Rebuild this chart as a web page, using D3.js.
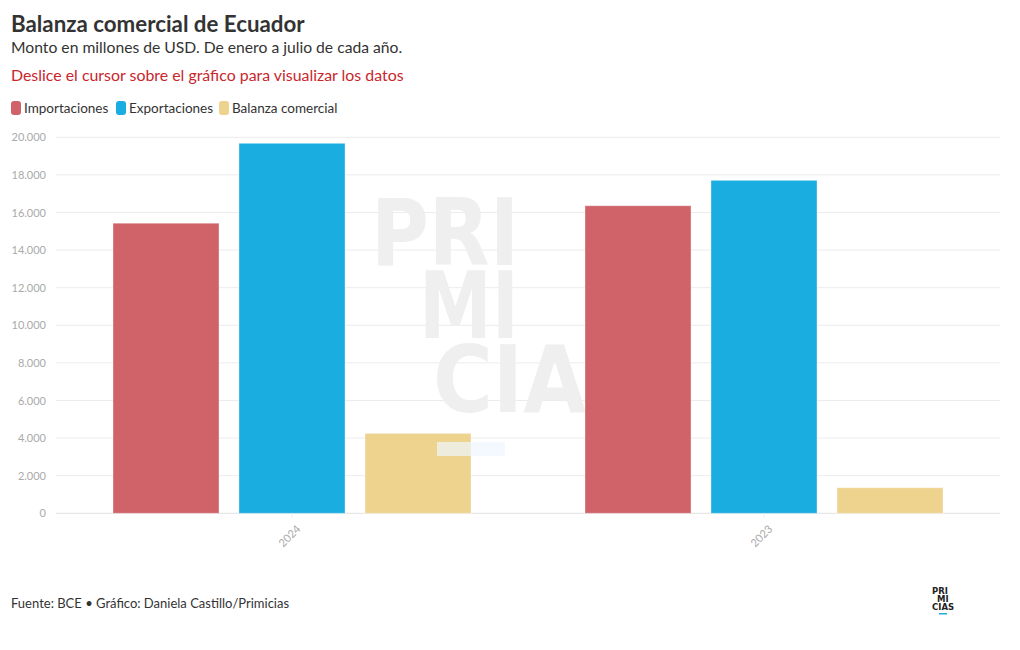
<!DOCTYPE html>
<html>
<head>
<meta charset="utf-8">
<script src="https://cdn.jsdelivr.net/npm/d3@7"></script>
<style>
  body { margin: 0; background: #fff; }
  svg { display: block; font-family: Lato, "Open Sans", sans-serif; }
</style>
</head>
<body>
<svg id="chart" width="1020" height="650"></svg>
<script>
// datos (millones de USD, enero a julio)
const years = ["2024", "2023"];
const series = ["Importaciones", "Exportaciones", "Balanza comercial"];
const importaciones = [15430, 16360];
const exportaciones = [19680, 17710];
const balanza = [4250, 1360];
const colors = ["#d0636a", "#1aade0", "#edd38e"];
const yTicks = [0, 2000, 4000, 6000, 8000, 10000, 12000, 14000, 16000, 18000, 20000];

const svg = d3.select("#chart");
const margin = {left: 56, right: 1000, top: 137.3, bottom: 513.3};

// titulos
svg.append("text").attr("x", 11).attr("y", 32)
  .attr("font-size", 22.3).attr("font-weight", 700).attr("fill", "#333")
  .text("Balanza comercial de Ecuador");
svg.append("text").attr("x", 11).attr("y", 53)
  .attr("font-size", 15.7).attr("fill", "#333")
  .text("Monto en millones de USD. De enero a julio de cada año.");
svg.append("text").attr("x", 11).attr("y", 81)
  .attr("font-size", 15.9).attr("fill", "#c9252d")
  .text("Deslice el cursor sobre el gráfico para visualizar los datos");

// leyenda
const legendX = [11, 116, 219];
const legend = svg.append("g");
series.forEach((s, i) => {
  const g = legend.append("g").attr("transform", `translate(${legendX[i]},101)`);
  g.append("rect").attr("width", 10).attr("height", 14).attr("rx", 3).attr("fill", colors[i]);
  g.append("text").attr("x", 13).attr("y", 12).attr("font-size", 13.5).attr("fill", "#333").text(s);
});

// escalas
const y = d3.scaleLinear().domain([0, 20000]).range([margin.bottom, margin.top]);
const x0 = d3.scaleBand().domain(years).range([margin.left, margin.right]);
const x1 = d3.scaleBand().domain(series).range([57, x0.bandwidth() - 57]).paddingInner(20 / 126);

// grilla
const grid = svg.append("g");
grid.selectAll("line").data(yTicks).enter().append("line")
  .attr("x1", margin.left).attr("x2", margin.right)
  .attr("y1", d => y(d)).attr("y2", d => y(d))
  .attr("stroke", d => d === 0 ? "#e2e2e2" : "#ececec").attr("stroke-width", 1);

const yAxis = svg.append("g").attr("transform", `translate(${margin.left},0)`)
  .call(d3.axisLeft(y).tickValues(yTicks).tickSize(0).tickPadding(10)
    .tickFormat(d => d3.format(",")(d).replace(/,/g, ".")));
yAxis.select(".domain").remove();
yAxis.selectAll("text").attr("font-size", 11).attr("fill", "#aaa").attr("font-family", "Lato, sans-serif");

// marca de agua (detras de las barras)
const wm = svg.append("g").attr("font-family", "DejaVu Sans, sans-serif")
  .attr("font-weight", 700).attr("fill", "#efefef");
wm.append("text").attr("x", 371).attr("y", 265).attr("font-size", 92)
  .attr("textLength", 148).attr("lengthAdjust", "spacingAndGlyphs").text("PRI");
wm.append("text").attr("x", 419).attr("y", 338).attr("font-size", 92)
  .attr("textLength", 100).attr("lengthAdjust", "spacingAndGlyphs").text("MI");
wm.append("text").attr("x", 433).attr("y", 412).attr("font-size", 92)
  .attr("textLength", 212).attr("lengthAdjust", "spacingAndGlyphs").text("CIAS");

// barras
const rows = years.map((yr, i) => ({
  year: yr,
  values: [importaciones[i], exportaciones[i], balanza[i]]
}));
const groups = svg.append("g").selectAll("g").data(rows).enter().append("g")
  .attr("transform", d => `translate(${x0(d.year)},0)`);
groups.selectAll("rect").data(d => d.values.map((v, i) => ({key: series[i], v, i}))).enter()
  .append("rect")
  .attr("x", d => x1(d.key))
  .attr("width", x1.bandwidth())
  .attr("y", d => y(d.v))
  .attr("height", d => y(0) - y(d.v))
  .attr("fill", d => colors[d.i])
  .attr("stroke", "rgba(255,255,255,0.35)").attr("stroke-width", 1);

// resto de tooltip
svg.append("rect").attr("x", 437).attr("y", 442).attr("width", 68).attr("height", 14)
  .attr("fill", "#eef6fd").attr("opacity", 0.7);

// eje x
const xAxis = svg.append("g").attr("transform", `translate(0,${margin.bottom})`)
  .call(d3.axisBottom(x0).tickSize(5).tickPadding(4));
xAxis.select(".domain").remove();
xAxis.selectAll("line").attr("stroke", "#eee");
xAxis.selectAll("text")
  .attr("font-size", 11).attr("fill", "#aaa").attr("font-family", "Lato, sans-serif")
  .attr("text-anchor", "end").attr("dy", 0)
  .attr("transform", "translate(3,10) rotate(-45)");

// pie
svg.append("text").attr("x", 11).attr("y", 608)
  .attr("font-size", 13).attr("fill", "#333")
  .text("Fuente: BCE • Gráfico: Daniela Castillo/Primicias");

// logo
const logo = svg.append("g").attr("font-family", "DejaVu Sans, sans-serif")
  .attr("font-weight", 700).attr("font-size", 8.5).attr("fill", "#222");
logo.append("text").attr("x", 932).attr("y", 594).text("PRI");
logo.append("text").attr("x", 937).attr("y", 602).text("MI");
logo.append("text").attr("x", 932).attr("y", 610).text("CIAS");
logo.append("rect").attr("x", 939).attr("y", 613).attr("width", 8).attr("height", 1.5).attr("fill", "#1aade0");
</script>
</body>
</html>
